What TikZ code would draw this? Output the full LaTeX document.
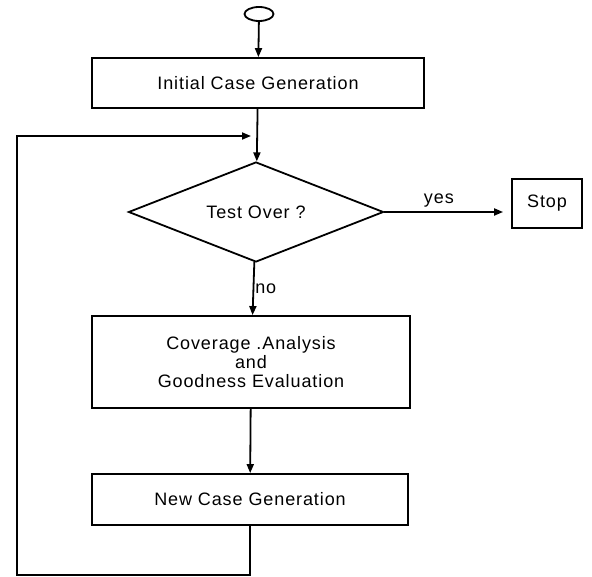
\documentclass[tikz,border=0pt]{standalone}
\usepackage{fontspec}
\setmainfont{Liberation Sans}[LetterSpace=5]
\usetikzlibrary{arrows.meta,shapes.geometric}

\begin{document}
\begin{tikzpicture}[x=1pt,y=-1pt,line width=1.8pt,>={Triangle[length=9pt,width=7pt]},
  font=\fontsize{18}{19}\selectfont,
  procbox/.style={draw,rectangle,inner sep=0pt,align=center}]
\useasboundingbox (0,0) rectangle (592,577);
% terminal and boxes
\node[draw,ellipse,minimum width=29pt,minimum height=14pt,inner sep=0pt] (start) at (259,14) {};
\node[procbox,minimum width=332pt,minimum height=50pt] (init) at (258,83) {Initial Case Generation};
\node[draw,diamond,aspect=2.55,inner sep=0pt,minimum width=255pt,minimum height=100pt] (dec) at (256,212) {Test Over ?};
\node[procbox,minimum width=70pt,minimum height=49pt] (stop) at (547,203.5) {Stop};
\node[procbox,minimum width=318pt,minimum height=92pt] (cov) at (251,362) {Coverage .Analysis\\and\\Goodness Evaluation};
\node[procbox,minimum width=316pt,minimum height=51pt] (newc) at (250,499.5) {New Case Generation};
\coordinate (join) at (257,136);
\coordinate (loopbot) at (17,575);
% flow
\draw[->] (start) -- (init);
\draw[->] (init) -- (dec);
\draw[->,shorten >=8pt] (dec.east) -- (dec.east -| stop.west) node[pos=0.43,above=1pt] {yes};
\draw[->] (dec) -- (cov) node[midway,right,inner sep=1pt] {no};
\draw[->] (cov) -- (newc);
% loop back
\draw[->,shorten >=6pt] (newc.south) |- (loopbot) |- (join);
\end{tikzpicture}
\end{document}
